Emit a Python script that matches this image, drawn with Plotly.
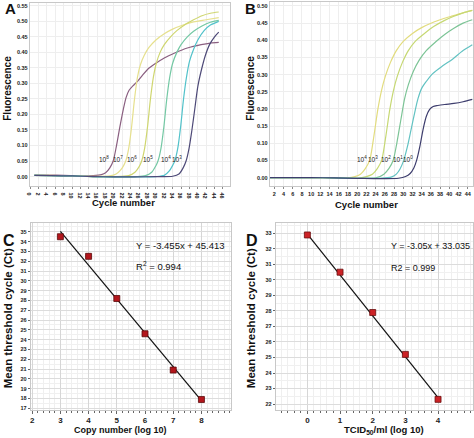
import plotly.graph_objects as go

W, H = 474, 438

# ---------------- Panel A: amplification curves (copy number) ----------------
a_labels = ["10<sup>8</sup>", "10<sup>7</sup>", "10<sup>6</sup>", "10<sup>5</sup>", "10<sup>4</sup>", "10<sup>3</sup>"]
a_label_cycle = [17.5, 20.9, 24.4, 28.2, 32.3, 35.1]
a_colors = ["#8a5f80", "#e6e08e", "#cfd670", "#74c8a4", "#52c2ca", "#4e4a78"]

a_e8_x = [1, 4, 8, 12, 15, 17, 18, 19, 19.8, 20.6, 21.4, 22.2, 22.9, 23.6, 24.5, 25.5, 26.6, 28, 30, 32, 34.5, 37.5, 40.8, 43, 45]
a_e8_y = [0.005, 0.005, 0.004, 0.002, 0.003, 0.006, 0.012, 0.028, 0.05, 0.10, 0.16, 0.215, 0.255, 0.278, 0.292, 0.305, 0.323, 0.345, 0.365, 0.382, 0.398, 0.414, 0.425, 0.43, 0.432]
a_e7_x = [1, 5, 10, 15, 19, 20.5, 21.5, 22.2, 22.8, 23.5, 24.2, 24.9, 25.6, 26.3, 27.2, 28.3, 30, 32, 34, 36.5, 39, 42, 45]
a_e7_y = [0.004, 0.004, 0.002, 0.001, 0.002, 0.008, 0.02, 0.033, 0.05, 0.09, 0.16, 0.25, 0.32, 0.36, 0.39, 0.415, 0.44, 0.46, 0.475, 0.488, 0.498, 0.505, 0.512]
a_e6_x = [1, 5, 10, 15, 20, 23.5, 25, 26, 26.6, 27.3, 28, 28.7, 29.4, 30.1, 31, 32, 33.5, 35, 37, 39, 41, 43, 45]
a_e6_y = [0.004, 0.003, 0.002, 0.0, 0.0, 0.003, 0.014, 0.032, 0.05, 0.09, 0.16, 0.25, 0.32, 0.365, 0.4, 0.425, 0.45, 0.47, 0.49, 0.505, 0.518, 0.526, 0.53]
a_e5_x = [1, 5, 10, 15, 20, 25, 27.5, 29, 30, 30.5, 31.2, 31.9, 32.6, 33.3, 34, 35, 36, 37.5, 39, 41, 43, 45]
a_e5_y = [0.004, 0.003, 0.002, 0.0, -0.001, 0.0, 0.003, 0.014, 0.035, 0.05, 0.09, 0.16, 0.25, 0.32, 0.365, 0.4, 0.425, 0.45, 0.468, 0.485, 0.497, 0.503]
a_e4_x = [1, 5, 10, 15, 20, 25, 30, 32, 33.2, 34, 34.5, 35.2, 35.9, 36.6, 37.3, 38, 39, 40, 41.5, 43, 45]
a_e4_y = [0.004, 0.003, 0.002, 0.0, -0.001, -0.001, 0.0, 0.004, 0.018, 0.036, 0.05, 0.09, 0.16, 0.25, 0.32, 0.37, 0.41, 0.44, 0.47, 0.488, 0.5]
a_e3_x = [1, 5, 10, 15, 20, 25, 30, 34, 35.5, 36.5, 37.2, 37.9, 38.6, 39.3, 40, 40.8, 41.8, 42.8, 44, 45]
a_e3_y = [0.004, 0.003, 0.002, 0.0, -0.001, -0.001, 0.0, 0.001, 0.008, 0.028, 0.05, 0.09, 0.15, 0.22, 0.29, 0.34, 0.39, 0.425, 0.45, 0.465]

# ---------------- Panel B: amplification curves (TCID50) ----------------
b_labels = ["10<sup>4</sup>", "10<sup>3</sup>", "10<sup>2</sup>", "10<sup>1</sup>", "10<sup>0</sup>"]
b_label_cycle = [20.95, 23.45, 26.2, 28.8, 31.1]
b_colors = ["#e2dc7e", "#c6d873", "#7cc496", "#62c2c2", "#3e3e6e"]

b_e4_x = [1, 5, 10, 15, 18, 19.5, 20.7, 21.8, 22.7, 23.5, 24.5, 25.3, 26.1, 27.2, 28.5, 30, 32, 34, 36.4, 38.5, 40.7, 43, 45]
b_e4_y = [0.0, 0.0, 0.0, -0.001, -0.001, 0.003, 0.01, 0.027, 0.05, 0.11, 0.2, 0.255, 0.295, 0.335, 0.37, 0.397, 0.42, 0.437, 0.452, 0.462, 0.471, 0.48, 0.487]
b_e3_x = [1, 5, 10, 15, 20, 22, 23.3, 24.4, 25.3, 26.1, 27.1, 27.9, 28.7, 29.8, 31.1, 32.6, 34.6, 36.6, 39, 41, 43, 45]
b_e3_y = [0.0, 0.0, 0.0, -0.001, -0.002, 0.003, 0.01, 0.027, 0.05, 0.11, 0.2, 0.255, 0.295, 0.335, 0.37, 0.397, 0.42, 0.44, 0.458, 0.47, 0.48, 0.487]
b_e2_x = [1, 5, 10, 15, 20, 24, 25.8, 26.9, 27.8, 28.6, 29.5, 30.3, 31.1, 32.2, 33.5, 35, 37, 39, 41, 43, 45]
b_e2_y = [0.0, 0.0, 0.0, -0.001, -0.002, -0.001, 0.01, 0.027, 0.05, 0.1, 0.17, 0.23, 0.27, 0.31, 0.343, 0.37, 0.395, 0.417, 0.435, 0.45, 0.46]
b_e1_x = [1, 5, 10, 15, 20, 25, 27.5, 28.5, 29.3, 30.1, 30.9, 31.7, 32.5, 33.2, 34, 35, 36.4, 38.5, 40.7, 43, 45]
b_e1_y = [0.0, 0.0, 0.0, -0.001, -0.002, -0.002, 0.002, 0.01, 0.025, 0.05, 0.09, 0.14, 0.19, 0.23, 0.26, 0.28, 0.303, 0.325, 0.345, 0.37, 0.387]
b_e0_x = [1, 5, 10, 15, 20, 25, 29, 30.5, 31.5, 32.3, 32.9, 33.6, 34.3, 35, 35.7, 36.5, 37.5, 39, 41, 43, 45]
b_e0_y = [0.0, 0.0, 0.0, -0.001, -0.002, -0.003, -0.002, 0.003, 0.012, 0.028, 0.05, 0.09, 0.14, 0.178, 0.198, 0.207, 0.21, 0.213, 0.216, 0.221, 0.228]

# ---------------- Panel C: standard curve (copy number) ----------------
c_log_copies = [3, 4, 5, 6, 7, 8]
c_ct = [34.5, 32.5, 28.2, 24.6, 20.9, 17.9]
c_fit_x = [3, 8]
c_fit_y = [35.05, 17.77]
c_xticks = [2, 3, 4, 5, 6, 7, 8]
c_eq = "Y = -3.455x + 45.413"
c_r2 = "R<sup>2</sup> = 0.994"

# ---------------- Panel D: standard curve (TCID50) ----------------
d_log_tcid = [0, 1, 2, 3, 4]
d_ct = [32.9, 30.5, 27.9, 25.2, 22.3]
d_fit_x = [0, 4]
d_fit_y = [32.95, 22.42]
d_xticks = [0, 1, 2, 3, 4]
d_eq = "Y = -3.05x + 33.035"
d_r2 = "R2 = 0.999"

FONT = "Liberation Sans, Arial, sans-serif"

fig = go.Figure()

a_series = [(a_e8_x, a_e8_y), (a_e7_x, a_e7_y), (a_e6_x, a_e6_y), (a_e5_x, a_e5_y), (a_e4_x, a_e4_y), (a_e3_x, a_e3_y)]
for (xs, ys), col in zip(a_series, a_colors):
    fig.add_trace(go.Scatter(x=xs, y=ys, mode="lines", xaxis="x", yaxis="y",
                             line=dict(color=col, width=1.2, shape="spline", smoothing=0.8),
                             showlegend=False, hoverinfo="skip"))

b_series = [(b_e4_x, b_e4_y), (b_e3_x, b_e3_y), (b_e2_x, b_e2_y), (b_e1_x, b_e1_y), (b_e0_x, b_e0_y)]
for (xs, ys), col in zip(b_series, b_colors):
    fig.add_trace(go.Scatter(x=xs, y=ys, mode="lines", xaxis="x2", yaxis="y2",
                             line=dict(color=col, width=1.2, shape="spline", smoothing=0.8),
                             showlegend=False, hoverinfo="skip"))

fig.add_trace(go.Scatter(x=c_fit_x, y=c_fit_y, mode="lines", xaxis="x3", yaxis="y3",
                         line=dict(color="#111111", width=1.2), showlegend=False))
fig.add_trace(go.Scatter(x=c_log_copies, y=c_ct, mode="markers", xaxis="x3", yaxis="y3",
                         marker=dict(symbol="square", size=6, color="#b3161c",
                                     line=dict(color="#5a0a0a", width=0.8)), showlegend=False))
fig.add_trace(go.Scatter(x=d_fit_x, y=d_fit_y, mode="lines", xaxis="x4", yaxis="y4",
                         line=dict(color="#111111", width=1.2), showlegend=False))
fig.add_trace(go.Scatter(x=d_log_tcid, y=d_ct, mode="markers", xaxis="x4", yaxis="y4",
                         marker=dict(symbol="square", size=6, color="#cc2226",
                                     line=dict(color="#6a0e0e", width=0.8)), showlegend=False))


def px(x):
    return x / W


def py(y):
    return 1 - y / H


tickf = dict(family=FONT, size=5.5, color="#222222", weight="bold")
tickbig = dict(family=FONT, size=8, color="#222222", weight="bold")
frame = dict(showline=True, linecolor="#c8c8c8", linewidth=1, mirror=True, zeroline=False)

layout_axes = dict(
    xaxis=dict(domain=[px(27), px(229)], range=[-0.1, 47.7], anchor="y", tickmode="linear", tick0=0, dtick=2,
               tickfont=tickf, showgrid=True, gridcolor="#eeeeee", ticks="outside", ticklen=2,
               tickcolor="#888888", **frame),
    yaxis=dict(domain=[py(186), py(2.7)], range=[-0.029, 0.56], anchor="x", tickmode="linear", tick0=0,
               dtick=0.05, tickformat=".2f", tickfont=tickf, showgrid=True, gridcolor="#eeeeee", **frame),
    xaxis2=dict(domain=[px(269), px(474)], range=[1.0, 45.15], anchor="y2", tickmode="linear", tick0=0, dtick=2,
                tickfont=tickf, showgrid=True, gridcolor="#eeeeee", ticks="outside", ticklen=2,
                tickcolor="#888888", **frame),
    yaxis2=dict(domain=[py(186.7), py(1.7)], range=[-0.0253, 0.5125], anchor="x2", tickmode="linear", tick0=0,
                dtick=0.05, tickformat=".2f", tickfont=tickf, showgrid=True, gridcolor="#eeeeee", **frame),
    xaxis3=dict(domain=[px(28), px(230)], range=[1.95, 9.05], anchor="y3", tickmode="array", tickvals=c_xticks,
                tickfont=tickbig, showgrid=True, gridcolor="#d6d6d6",
                minor=dict(dtick=0.2, tick0=0, showgrid=True, gridcolor="#efefef", ticks="outside", ticklen=2),
                ticks="outside", ticklen=3, tickcolor="#666666", **frame),
    yaxis3=dict(domain=[py(410.7), py(224)], range=[16.85, 35.85], anchor="x3", tickmode="linear", tick0=17,
                dtick=1, tickfont=tickf, showgrid=True, gridcolor="#dcdcdc",
                minor=dict(dtick=0.5, tick0=0, showgrid=True, gridcolor="#f0f0f0"),
                ticks="outside", ticklen=2, tickcolor="#666666", **frame),
    xaxis4=dict(domain=[px(275), px(474)], range=[-0.97, 5.07], anchor="y4", tickmode="array", tickvals=d_xticks,
                tickfont=tickbig, showgrid=True, gridcolor="#d6d6d6",
                minor=dict(dtick=0.2, tick0=0, showgrid=True, gridcolor="#efefef", ticks="outside", ticklen=2),
                ticks="outside", ticklen=3, tickcolor="#666666", **frame),
    yaxis4=dict(domain=[py(410.7), py(224)], range=[21.63, 33.64], anchor="x4", tickmode="linear", tick0=22,
                dtick=1, tickfont=tickf, showgrid=True, gridcolor="#dcdcdc",
                minor=dict(dtick=0.5, tick0=0, showgrid=True, gridcolor="#f0f0f0"),
                ticks="outside", ticklen=2, tickcolor="#666666", **frame),
)

ann = []


def lab(text, x, y, size, angle=0, xanchor="center", yanchor="middle", color="#111111"):
    ann.append(dict(text=text, x=px(x), y=py(y), xref="paper", yref="paper", showarrow=False,
                    textangle=angle, xanchor=xanchor, yanchor=yanchor,
                    font=dict(family=FONT, size=size, color=color)))


# panel letters
lab("<b>A</b>", 8, 9, 15)
lab("<b>B</b>", 250, 9, 15)
lab("<b>C</b>", 6, 241, 16)
lab("<b>D</b>", 251, 241, 16)

# axis titles
lab("<b>Fluorescence</b>", 5, 88, 10, angle=-90)
lab("<b>Fluorescence</b>", 250, 88, 10, angle=-90)
lab("<b>Cycle number</b>", 122, 203, 9.5)
lab("<b>Cycle number</b>", 367, 205, 9.5)
lab("<b>Mean threshold cycle (Ct)</b>", 5, 319, 11.5, angle=-90)
lab("<b>Mean threshold cycle (Ct)</b>", 250, 319, 11.5, angle=-90)
lab("<b>Copy number (log 10)</b>", 118, 431, 9)
lab("<b>TCID<sub>50</sub>/ml (log 10)</b>", 384, 430.5, 9.5)

# equations
lab(c_eq, 132, 246, 9.5, xanchor="left")
lab(c_r2, 132, 267, 9.5, xanchor="left")
lab(d_eq, 389, 247, 9, xanchor="left")
lab(d_r2, 389, 269, 9, xanchor="left")

# curve labels in data coordinates
for t, cx in zip(a_labels, a_label_cycle):
    ann.append(dict(text=t, x=cx, y=0.058, xref="x", yref="y", showarrow=False,
                    font=dict(family=FONT, size=6.5, color="#222222")))
for t, cx in zip(b_labels, b_label_cycle):
    ann.append(dict(text=t, x=cx, y=0.055, xref="x2", yref="y2", showarrow=False,
                    font=dict(family=FONT, size=6.5, color="#222222")))

fig.update_layout(width=W, height=H, margin=dict(l=0, r=0, t=0, b=0),
                  paper_bgcolor="white", plot_bgcolor="white", showlegend=False,
                  annotations=ann, **layout_axes)

fig.write_html("out.html", config={"displayModeBar": False},
               post_script="document.body.style.margin='0px';document.body.style.overflow='hidden';")
